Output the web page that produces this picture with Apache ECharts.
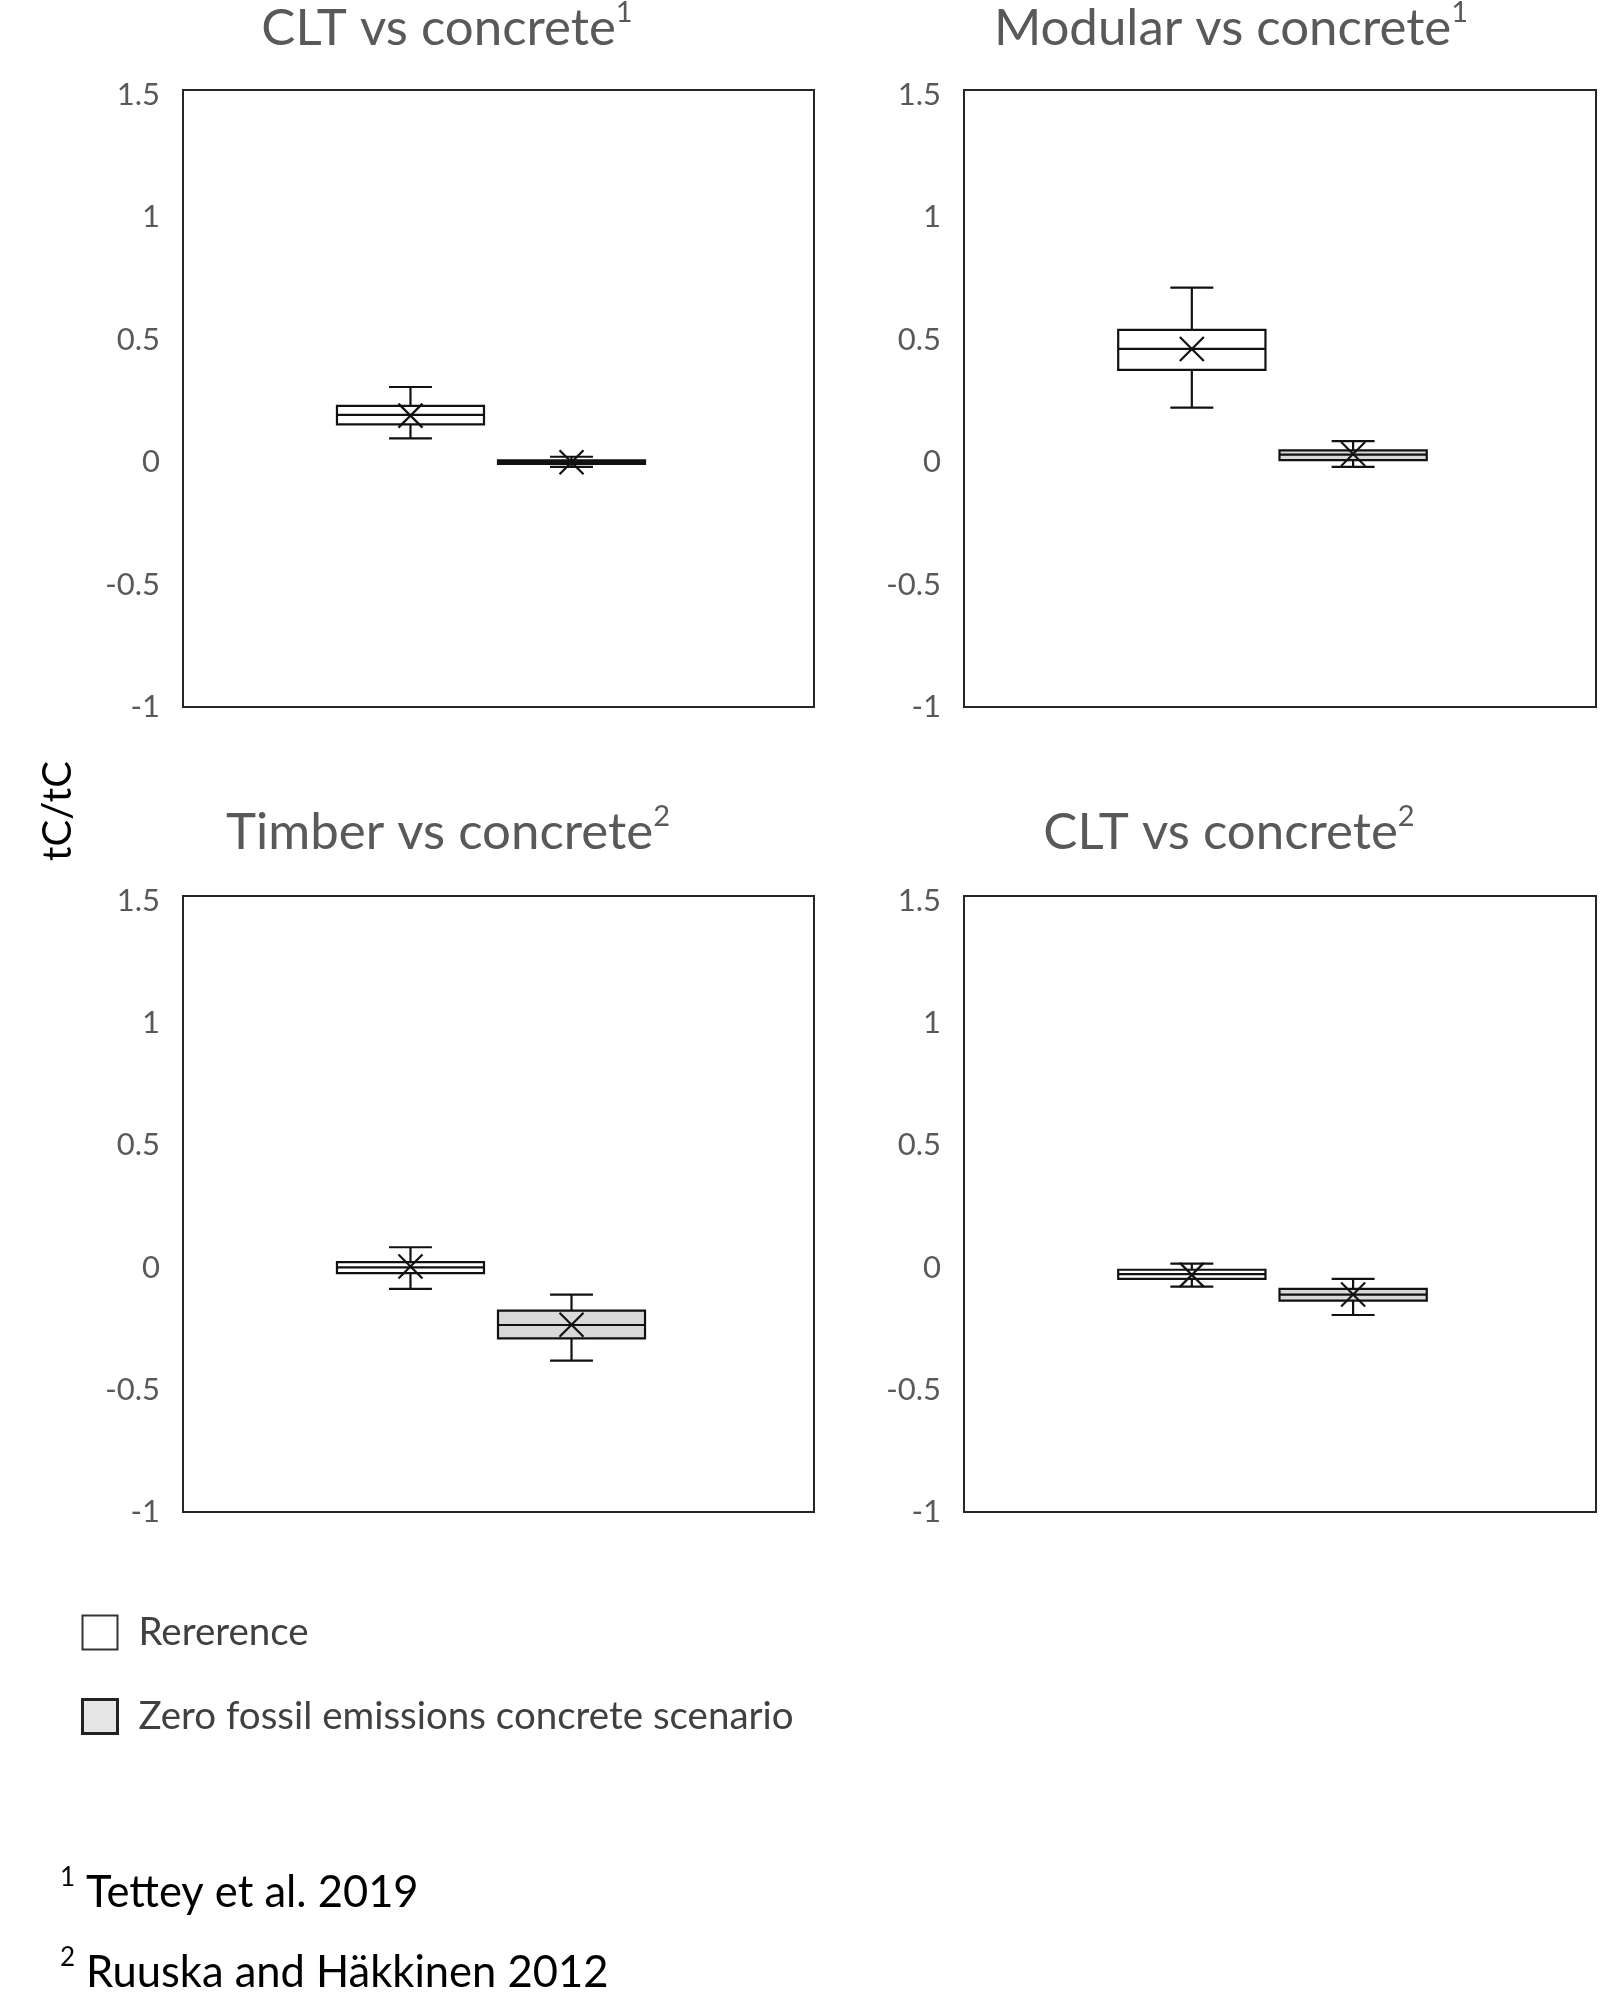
<!DOCTYPE html>
<html><head><meta charset="utf-8">
<script src="https://cdn.jsdelivr.net/npm/echarts@6/dist/echarts.min.js"></script>
<style>html,body{margin:0;padding:0;background:#fff}#c{width:1601px;height:1992px}</style>
</head><body><div id="c"></div>
<script>
// ---- data ----
const panelTitles = ['CLT vs concrete', 'Modular vs concrete', 'Timber vs concrete', 'CLT vs concrete'];
const panelSources = ['1', '1', '2', '2'];
const seriesNames = ['Rererence', 'Zero fossil emissions concrete scenario'];
const categories = [''];
// each row: [min, Q1, median, Q3, max, mean]
const referenceStats = [
  [0.097, 0.154, 0.193, 0.230, 0.307, 0.190],
  [0.223, 0.377, 0.463, 0.540, 0.713, 0.462],
  [-0.087, -0.023, 0.001, 0.022, 0.083, 0.004],
  [-0.078, -0.046, -0.027, -0.009, 0.016, -0.030]
];
const zeroFossilStats = [
  [-0.019, -0.007, 0.000, 0.007, 0.022, 0.000],
  [-0.019, 0.008, 0.031, 0.048, 0.086, 0.033],
  [-0.381, -0.290, -0.235, -0.176, -0.111, -0.234],
  [-0.194, -0.135, -0.111, -0.087, -0.046, -0.110]
];
const yMin = -1, yMax = 1.52, yInterval = 0.5;
const yAxisTitle = 'tC/tC';
const footnotes = [['1', 'Tettey et al. 2019'], ['2', 'Ruuska and Häkkinen 2012']];

// ---- layout / style ----
const FONT = 'Lato';
const grids = [
  {left: 183, top: 90, width: 631, height: 617},
  {left: 964, top: 90, width: 632, height: 617},
  {left: 183, top: 896, width: 631, height: 616},
  {left: 964, top: 896, width: 632, height: 616}
];
const titlePos = [[447, 29], [1231, 29], [448, 833], [1229, 833]];
const boxLayout = {offsets: [-0.1395, 0.1157], boxWidth: 0.233, capWidth: 0.068, mark: 12, lw: 2.2};
const fills = ['#ffffff', '#d9d9d9'];
const stroke = '#111111';

const statsBySeries = [referenceStats, zeroFossilStats];

function makeRender(sIdx) {
  return function (params, api) {
    const band = api.size([1, 0])[0];
    const cx = api.coord([api.value(0), api.value(3)])[0] + boxLayout.offsets[sIdx] * band;
    const y = k => api.coord([api.value(0), api.value(k)])[1];
    const hw = boxLayout.boxWidth * band / 2, cw = boxLayout.capWidth * band / 2, m = boxLayout.mark;
    const ln = (x1, y1, x2, y2) => ({type: 'line', shape: {x1, y1, x2, y2}, style: {stroke, lineWidth: boxLayout.lw}});
    return {
      type: 'group',
      children: [
        ln(cx, y(1), cx, y(2)),
        ln(cx, y(4), cx, y(5)),
        ln(cx - cw, y(1), cx + cw, y(1)),
        ln(cx - cw, y(5), cx + cw, y(5)),
        {type: 'rect', shape: {x: cx - hw, y: y(4), width: 2 * hw, height: y(2) - y(4)},
         style: {fill: fills[sIdx], stroke, lineWidth: boxLayout.lw}},
        ln(cx - hw, y(3), cx + hw, y(3)),
        ln(cx - m, y(6) - m, cx + m, y(6) + m),
        ln(cx - m, y(6) + m, cx + m, y(6) - m)
      ]
    };
  };
}

const series = [];
grids.forEach((g, p) => {
  statsBySeries.forEach((stats, s) => {
    series.push({
      type: 'custom', name: seriesNames[s], xAxisIndex: p, yAxisIndex: p,
      itemStyle: {color: fills[s], borderColor: stroke},
      encode: {x: 0, y: [1, 2, 3, 4, 5, 6]},
      data: [[0].concat(stats[p])],
      renderItem: makeRender(s),
      silent: true
    });
  });
});

const graphic = [];
panelTitles.forEach((t, i) => {
  graphic.push({
    type: 'text', x: titlePos[i][0], y: titlePos[i][1],
    style: {
      text: '{m|' + t + '}{s|' + panelSources[i] + '}',
      align: 'center', verticalAlign: 'middle',
      rich: {
        m: {fontSize: 51, lineHeight: 62, fontFamily: FONT, fill: '#595959', color: '#595959'},
        s: {fontSize: 29, lineHeight: 46, verticalAlign: 'top', fontFamily: FONT, fill: '#595959', color: '#595959'}
      }
    }
  });
});
graphic.push({
  type: 'text', x: 58, y: 811, rotation: Math.PI / 2,
  style: {text: yAxisTitle, align: 'center', verticalAlign: 'middle', font: '40px ' + FONT, fill: '#000'}
});
const footY = [1893, 1973];
footnotes.forEach((f, i) => {
  graphic.push({
    type: 'text', x: 60, y: footY[i],
    style: {
      text: '{s|' + f[0] + '}{g|}{t|' + f[1] + '}',
      align: 'left', verticalAlign: 'middle',
      rich: {
        s: {fontSize: 26, lineHeight: 40, verticalAlign: 'top', fontFamily: FONT, fill: '#000', color: '#000'},
        g: {width: 11, lineHeight: 56},
        t: {fontSize: 43.5, lineHeight: 56, fontFamily: FONT, fill: '#000', color: '#000'}
      }
    }
  });
});

const option = {
  backgroundColor: '#fff',
  animation: false,
  grid: grids.map(g => Object.assign({show: true, borderColor: '#262626', borderWidth: 2, backgroundColor: 'transparent'}, g)),
  xAxis: grids.map((g, i) => ({type: 'category', gridIndex: i, data: categories, show: false})),
  yAxis: grids.map((g, i) => ({
    type: 'value', gridIndex: i, min: yMin, max: yMax, interval: yInterval,
    axisLine: {show: false}, axisTick: {show: false}, splitLine: {show: false},
    axisLabel: {showMaxLabel: false, color: '#595959', fontSize: 31, fontFamily: FONT, margin: 23}
  })),
  legend: {
    orient: 'vertical', left: 76, top: 1608, padding: 5, itemWidth: 35, itemHeight: 34, itemGap: 45,
    icon: 'rect', selectedMode: false,
    data: [
      {name: seriesNames[0], itemStyle: {color: '#ffffff', borderColor: '#333', borderWidth: 2}},
      {name: seriesNames[1], itemStyle: {color: '#e6e6e6', borderColor: '#222', borderWidth: 3}}
    ],
    textStyle: {fontSize: 38.5, lineHeight: 34, color: '#404040', fontFamily: FONT, padding: [0, 0, 0, 16]}
  },
  graphic: graphic,
  series: series
};
const chart = echarts.init(document.getElementById('c'), null, {renderer: 'canvas'});
chart.setOption(option);
</script>
</body></html>
